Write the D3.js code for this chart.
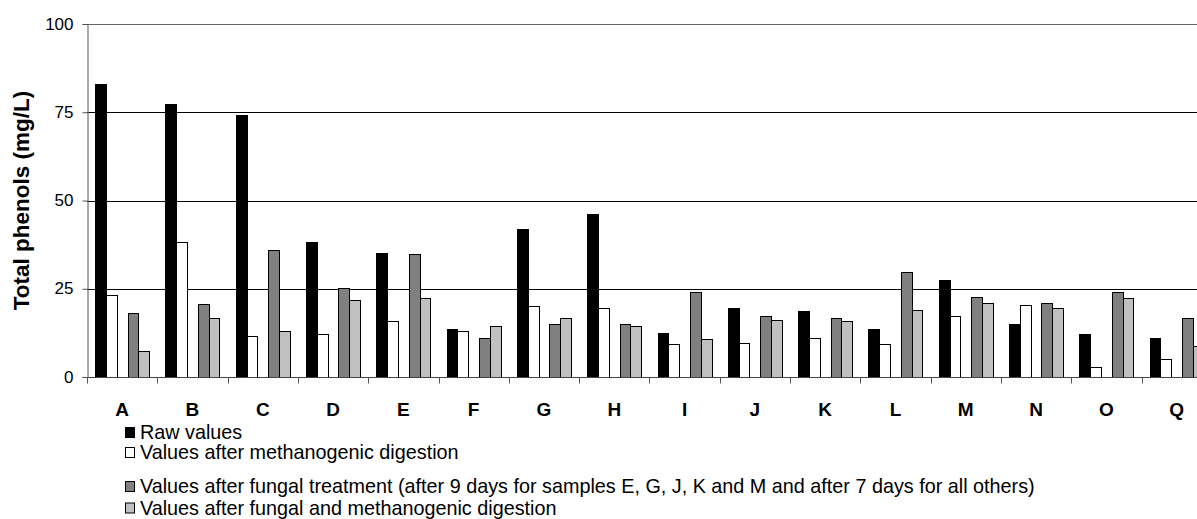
<!DOCTYPE html>
<html>
<head>
<meta charset="utf-8">
<script src="https://cdn.jsdelivr.net/npm/d3@7"></script>
<style>
  html, body { margin: 0; padding: 0; background: #ffffff; overflow: hidden; }
  #chart { width: 1197px; height: 519px; }
</style>
</head>
<body>
<div id="chart"></div>
<script>
// Total phenols per sample, four treatments (third slot is an empty series, as in the original)
var categories = ['A','B','C','D','E','F','G','H','I','J','K','L','M','N','O','Q'];
var rawValues = [83, 77.3, 74.1, 38.2, 35.0, 13.5, 41.9, 46.2, 12.6, 19.5, 18.6, 13.5, 27.5, 14.9, 12.1, 11.1];
var methanogenicValues = [23.2, 38.2, 11.6, 12.2, 15.9, 13.0, 20.0, 19.5, 9.3, 9.7, 11.1, 9.3, 17.2, 20.5, 2.7, 5.1];
var fungalValues = [18.1, 20.6, 35.9, 25.1, 34.9, 11.1, 14.9, 14.9, 24.2, 17.3, 16.7, 29.7, 22.7, 21.0, 24.2, 16.7];
var fungalMethanogenicValues = [7.5, 16.7, 13.0, 21.9, 22.4, 14.4, 16.7, 14.4, 10.7, 16.2, 15.8, 19.1, 21.0, 19.5, 22.3, 8.8];
var yTicks = [0, 25, 50, 75, 100];
var seriesNames = [
  'Raw values',
  'Values after methanogenic digestion',
  '',
  'Values after fungal treatment (after 9 days for samples E, G, J, K and M and after 7 days for all others)',
  'Values after fungal and methanogenic digestion'
];
var yTitle = 'Total phenols (mg/L)';

(function(){
  var W = 1197, H = 519;
  var plot = { left: 87, top: 24, bottom: 377, catWidth: 70.3 };
  var fills = ['#000000', '#ffffff', null, '#808080', '#c0c0c0'];
  var seriesValues = [rawValues, methanogenicValues, null, fungalValues, fungalMethanogenicValues];
  var legendRowY = [439, 459, null, 493, 514.5];
  var font = 'Liberation Sans, Arial, sans-serif';

  var svg = d3.select('#chart').append('svg')
    .attr('width', W).attr('height', H)
    .style('font-family', font);

  // plot extends past the right edge like the original (last bars get cut)
  var x0 = d3.scaleBand().domain(categories)
    .range([plot.left, plot.left + plot.catWidth * categories.length])
    .paddingInner(0).paddingOuter(0);
  var x1 = d3.scaleBand().domain(d3.range(seriesNames.length))
    .range([0, x0.bandwidth()])
    .paddingInner(0).paddingOuter(0.75);
  var y = d3.scaleLinear().domain([0, 100]).range([plot.bottom, plot.top]);

  // gridlines
  svg.append('g').selectAll('line')
    .data(yTicks.filter(function(t){ return t > 0; }))
    .enter().append('line')
    .attr('x1', plot.left).attr('x2', W)
    .attr('y1', function(d){ return Math.round(y(d)) + 0.5; })
    .attr('y2', function(d){ return Math.round(y(d)) + 0.5; })
    .attr('stroke', function(d){ return d === 100 ? '#666' : '#000'; })
    .attr('stroke-width', 1);

  // bars
  var rows = [];
  seriesValues.forEach(function(vals, si){
    if (!vals) return;
    vals.forEach(function(v, ci){ rows.push({ s: si, c: categories[ci], v: v }); });
  });
  svg.append('g').selectAll('rect')
    .data(rows)
    .enter().append('rect')
    .attr('x', function(d){ return Math.round(x0(d.c) + x1(d.s)) + 0.5; })
    .attr('y', function(d){ return Math.round(y(d.v)) + 0.5; })
    .attr('width', function(d){
      return Math.round(x0(d.c) + x1(d.s) + x1.bandwidth()) - Math.round(x0(d.c) + x1(d.s));
    })
    .attr('height', function(d){ return Math.round(y(0)) - Math.round(y(d.v)); })
    .attr('fill', function(d){ return fills[d.s]; })
    .attr('stroke', '#000').attr('stroke-width', 1);

  // y axis
  var ay = svg.append('g')
    .attr('transform', 'translate(' + (plot.left + 0.5) + ',0)')
    .call(d3.axisLeft(y).tickValues(yTicks).tickSize(5).tickPadding(9).tickFormat(d3.format('d')));
  ay.select('.domain').attr('stroke', '#555');
  ay.selectAll('line').attr('stroke', '#555');
  ay.selectAll('text').style('font-family', font).style('font-size', '17px').style('fill', '#000')
    .attr('dy', '0.3em');

  // x axis: ticks at category boundaries
  var ax = svg.append('g')
    .attr('transform', 'translate(0,' + (plot.bottom + 0.5) + ')');
  ax.append('line')
    .attr('x1', plot.left).attr('x2', W)
    .attr('stroke', '#444');
  ax.selectAll('.tk')
    .data(categories)
    .enter().append('line')
    .attr('class', 'tk')
    .attr('x1', function(d){ return Math.round(x0(d)) + 0.5; })
    .attr('x2', function(d){ return Math.round(x0(d)) + 0.5; })
    .attr('y1', 0).attr('y2', 6)
    .attr('stroke', '#555');
  ax.selectAll('.lbl')
    .data(categories)
    .enter().append('text')
    .attr('class', 'lbl')
    .attr('x', function(d){ return x0(d) + x0.bandwidth() / 2; })
    .attr('y', 38)
    .attr('text-anchor', 'middle')
    .style('font-size', '19px')
    .style('font-weight', '700')
    .style('fill', '#000')
    .text(function(d){ return d; });

  // y title
  svg.append('text')
    .attr('transform', 'translate(29,' + ((plot.top + plot.bottom) / 2) + ') rotate(-90)')
    .attr('text-anchor', 'middle')
    .style('font-size', '22.5px')
    .style('font-weight', '700')
    .style('fill', '#000')
    .text(yTitle);

  // legend
  var lg = svg.append('g');
  seriesNames.forEach(function(name, i){
    if (!name) return;
    var by = legendRowY[i];
    lg.append('rect')
      .attr('x', 125.5).attr('y', by - 11.5)
      .attr('width', 9).attr('height', 10)
      .attr('fill', fills[i]).attr('stroke', '#000').attr('stroke-width', 1);
    lg.append('text')
      .attr('x', 140).attr('y', by)
      .style('font-size', '19.8px')
      .style('fill', '#000')
      .text(name);
  });
})();
</script>
</body>
</html>
